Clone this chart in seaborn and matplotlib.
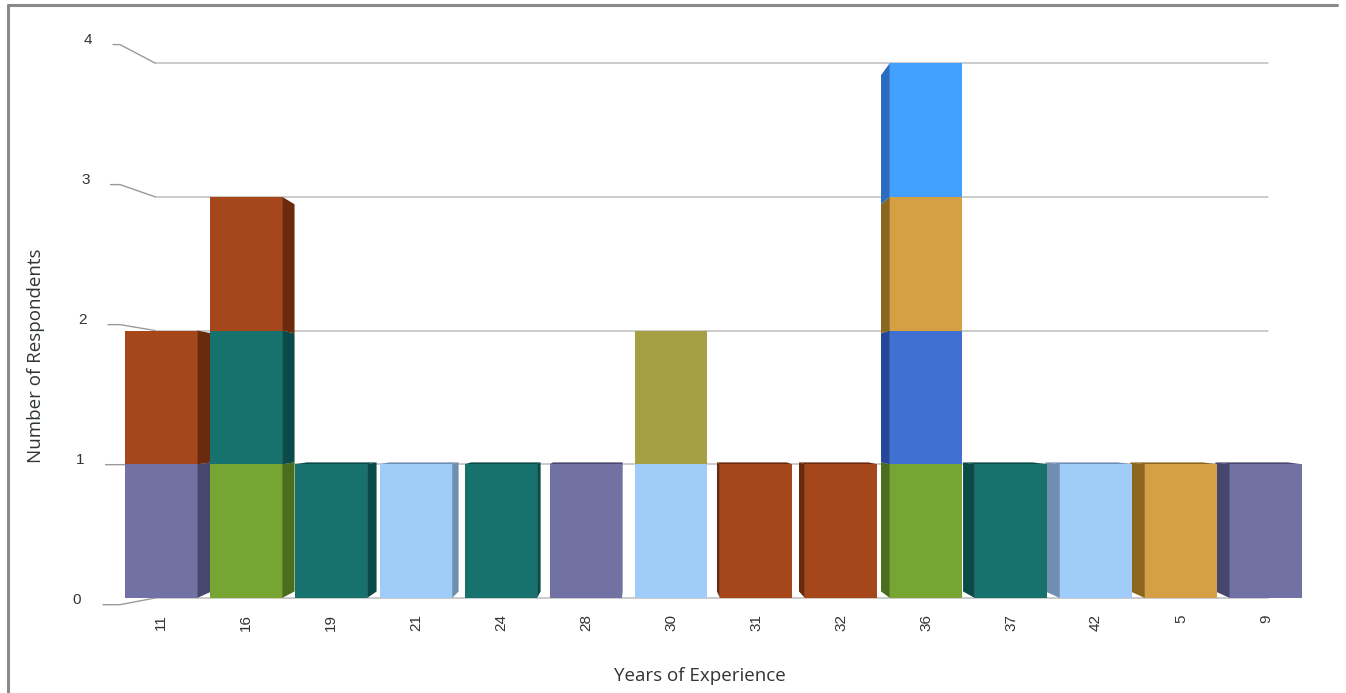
import matplotlib
matplotlib.use("Agg")
import numpy as np
import pandas as pd
import matplotlib.pyplot as plt
import seaborn as sns
from matplotlib.patches import Polygon
from matplotlib.lines import Line2D
from matplotlib.colors import to_rgb

# ---- data -------------------------------------------------------------
years = ["11", "16", "19", "21", "24", "28", "30", "31", "32", "36", "37", "42", "5", "9"]
# one respondent per segment, stacked from the bottom up (value = colour key)
tier_1 = ["purple", "green", "teal", "sky", "teal", "purple", "sky",
          "rust", "rust", "green", "teal", "sky", "gold", "purple"]
tier_2 = {"11": "rust", "16": "teal", "30": "olive", "36": "royal"}
tier_3 = {"16": "rust", "36": "gold"}
tier_4 = {"36": "azure"}
y_ticks = [0, 1, 2, 3, 4]

front = {
    "purple": "#7171A3", "rust": "#A5471A", "teal": "#17726E",
    "green": "#77A534", "sky": "#9FCCF8", "olive": "#A4A043",
    "royal": "#4070D2", "gold": "#D4A043", "azure": "#42A0FF",
}
side = {
    "purple": "#46466F", "rust": "#6B2A0B", "teal": "#0A4A48",
    "green": "#4A6E1C", "sky": "#6F8EB2", "olive": "#6F6C22",
    "royal": "#24479A", "gold": "#8C661F", "azure": "#2A6CC0",
}

rows = []
for i, y in enumerate(years):
    rows.append((y, 1, tier_1[i], 1))
for t, tier in ((2, tier_2), (3, tier_3), (4, tier_4)):
    for y, c in tier.items():
        rows.append((y, t, c, 1))
df = pd.DataFrame(rows, columns=["year", "tier", "colour", "count"])
df = df.sort_values(["year", "tier"])
df["top"] = df.groupby("year")["count"].cumsum()

# ---- figure -----------------------------------------------------------
sns.set_theme(style="white")
plt.rcParams["font.family"] = ["Liberation Sans", "DejaVu Sans"]

W, H = 1346, 693
fig = plt.figure(figsize=(W / 100, H / 100), dpi=100)
fig.patch.set_facecolor("white")
ax = fig.add_axes([118.5 / W, (H - 604.7) / H, 1190 / W, 581.8 / H])
ax.set_facecolor("white")

# stacked fronts: draw the tallest layer first, lower layers over it
for t in sorted(df["tier"].unique(), reverse=True):
    sub = df[df["tier"] == t]
    sns.barplot(data=sub, x="year", y="top", hue="colour", palette=front,
                order=years, dodge=False, width=0.85, errorbar=None,
                saturation=1, legend=False, edgecolor="none", linewidth=0,
                zorder=3, ax=ax)

ax.set_xlim(-0.5, len(years) - 0.5)
ax.set_ylim(-0.05, 4.3)

# horizontal guides
for v in y_ticks:
    ax.plot([-0.07, 13.02], [v, v], color="#BDBDBD", lw=1.1, zorder=0.5)

# ---- pseudo-3D faces derived from the drawn bars ----------------------
vx, vy, t_depth, dx_cap = 5.6, 1.4, 0.035, 0.17
colour_of = {to_rgb(v): k for k, v in front.items()}

stacks = {}
for p in ax.patches:
    xc = round(p.get_x() + p.get_width() / 2, 3)
    stacks.setdefault(xc, []).append(
        (p.get_height(), p.get_x(), p.get_width(), colour_of[to_rgb(p.get_facecolor())[:3]]))


def back(x, y):
    dx = np.clip(t_depth * (vx - x), -dx_cap, dx_cap)
    return x + dx, y + t_depth * (vy - y)


for xc, segs in stacks.items():
    segs.sort()
    x0, w = segs[0][1], segs[0][2]
    x1 = x0 + w
    if vx > x1:
        xe = x1
    elif vx < x0:
        xe = x0
    else:
        xe = None
    lo = 0.0
    for hgt, _, _, key in segs:
        if xe is not None:
            bx0, by0 = back(xe, lo)
            bx1, by1 = back(xe, hgt)
            ax.add_patch(Polygon([(xe, lo), (xe, hgt), (bx1, by1), (bx0, by0)],
                                 closed=True, facecolor=side[key],
                                 edgecolor="none", zorder=2))
        lo = hgt
    top_h, key = segs[-1][0], segs[-1][3]
    if top_h < vy:
        blx, bly = back(x0, top_h)
        brx, bry = back(x1, top_h)
        ax.add_patch(Polygon([(x0, top_h), (x1, top_h), (brx, bry), (blx, bly)],
                             closed=True, facecolor=side[key],
                             edgecolor="none", zorder=2))

# ---- axes decoration --------------------------------------------------
sns.despine(ax=ax, left=True, bottom=True)
ax.set_yticks([])
ax.set_xlabel("")
ax.set_ylabel("")
ax.tick_params(axis="x", length=0, pad=7, labelsize=11, labelcolor="#333333")
for lab in ax.get_xticklabels():
    lab.set_rotation(90)

# y tick labels with angled leader lines
for v in y_ticks:
    ly = v * 1.047 - 0.015
    lx = -0.99 + 0.033 * v
    ax.text(lx, ly, str(v), ha="center", va="center", fontsize=11,
            color="#333333", clip_on=False)
    sx = (103 + 2.5 * v - 161) / 85
    kx = (120 - 161) / 85
    ex = (155 - 161) / 85
    ax.plot([sx, kx, ex], [ly - 0.035, ly - 0.035, v], color="#9A9A9A",
            lw=1.0, clip_on=False, zorder=0.6)

fig.text(700 / W, 1 - 676 / H, "Years of Experience", ha="center", va="center",
         fontsize=13.5, color="#333333", family=["Open Sans", "DejaVu Sans"])
fig.text(36 / W, 1 - 356 / H, "Number of Respondents", ha="center", va="center",
         rotation=90, fontsize=13.5, color="#2E3630",
         family=["Open Sans", "DejaVu Sans"])

# outer frame (left and top edges)
fig.add_artist(Line2D([8 / W, 8 / W], [0, 1 - 5 / H], transform=fig.transFigure,
                      color="#8A8A8A", lw=2.2))
fig.add_artist(Line2D([8 / W, 1337 / W], [1 - 5 / H, 1 - 5 / H],
                      transform=fig.transFigure, color="#8A8A8A", lw=2.2))

fig.savefig("out.png", dpi=100, facecolor="white")
